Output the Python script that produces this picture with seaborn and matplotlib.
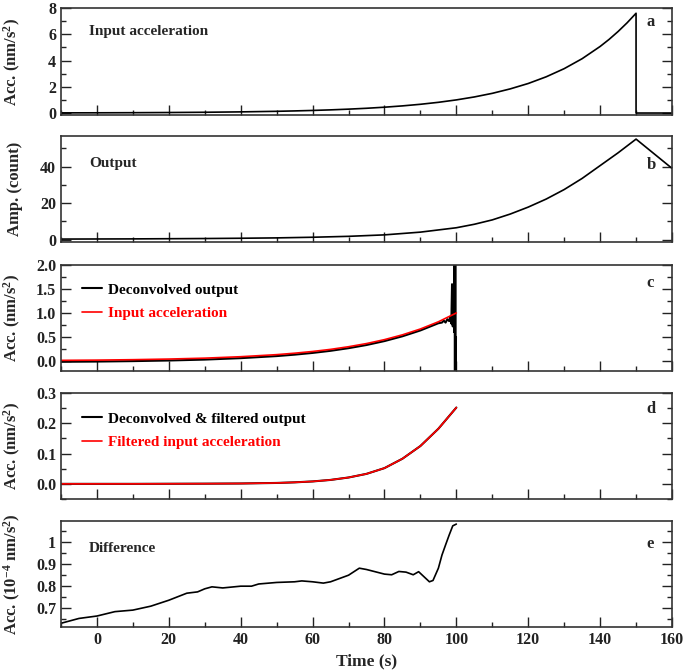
import numpy as np
import pandas as pd
import matplotlib
matplotlib.use("Agg")
import matplotlib.pyplot as plt
import seaborn as sns
from matplotlib.ticker import MultipleLocator, FuncFormatter

# ---------------- data ----------------
t_in = [-10, 0, 10, 20, 30, 40, 50, 55, 60, 65, 70, 75, 80, 85, 90, 95, 100,
        105, 110, 115, 120, 125, 130, 135, 140, 142.5, 145, 147.5, 150, 150, 160]
acc_in = [0.012, 0.017, 0.026, 0.039, 0.058, 0.088, 0.131, 0.161, 0.197, 0.241,
          0.296, 0.362, 0.444, 0.544, 0.666, 0.816, 1.0, 1.225, 1.50, 1.84, 2.25,
          2.76, 3.38, 4.14, 5.07, 5.61, 6.21, 6.87, 7.6, 0.0, 0.0]

t_out = [-10, 0, 10, 20, 30, 40, 50, 60, 70, 80, 90, 100, 105, 110, 115, 120,
         125, 130, 135, 140, 145, 150, 160]
amp_out = [0.3, 0.35, 0.4, 0.5, 0.6, 0.75, 0.95, 1.3, 1.8, 2.6, 4.1, 6.5, 8.4,
           10.8, 14.0, 17.8, 22.2, 27.4, 33.5, 40.5, 47.5, 55.0, 39.0]

t_c_in = [-10, 0, 10, 20, 30, 40, 50, 55, 60, 65, 70, 75, 80, 85, 90, 95, 100]
acc_c_in = [0.012, 0.017, 0.026, 0.039, 0.058, 0.088, 0.131, 0.161, 0.197, 0.241,
            0.296, 0.362, 0.444, 0.544, 0.666, 0.816, 1.0]

t_dec = [-10, 0, 10, 20, 30, 40, 50, 55, 60, 65, 70, 75, 80, 85, 90, 95, 96,
         96.5, 97, 97.5, 98, 98.3, 98.6, 98.8, 99.0, 99.2, 99.4, 99.5, 99.6,
         99.7, 99.8, 99.9]
acc_dec = [-0.018, -0.013, -0.004, 0.009, 0.028, 0.058, 0.101, 0.131, 0.167,
           0.211, 0.266, 0.332, 0.414, 0.514, 0.636, 0.786, 0.80, 0.84, 0.80,
           0.87, 0.83, 0.92, 0.78, 1.6, 0.72, 1.3, 0.6, 2.1, -0.25, 2.1, -0.25, 0.5]

t_d = [-10, 0, 10, 20, 30, 40, 50, 55, 60, 65, 70, 75, 80, 85, 90, 95, 100]
filt_dec = [0, 0, 0, 0.0003, 0.0006, 0.0012, 0.003, 0.005, 0.008, 0.013, 0.021,
            0.033, 0.052, 0.083, 0.125, 0.182, 0.252]
filt_in = [0, 0, 0, 0.0003, 0.0006, 0.0012, 0.003, 0.005, 0.008, 0.013, 0.021,
           0.033, 0.052, 0.083, 0.125, 0.182, 0.252]

t_e = [-10, -5, 0, 5, 10, 15, 20, 25, 28, 30, 32, 35, 40, 43, 45, 50, 55, 57,
       60, 63, 65, 70, 73, 75, 80, 82, 84, 86, 88, 89.5, 91, 92.5, 93.5, 95, 96,
       97, 98, 99, 100]
diff_e = [0.631, 0.653, 0.664, 0.684, 0.691, 0.709, 0.736, 0.768, 0.774, 0.788,
          0.797, 0.792, 0.800, 0.800, 0.810, 0.817, 0.820, 0.824, 0.820, 0.814,
          0.820, 0.850, 0.882, 0.876, 0.855, 0.852, 0.867, 0.864, 0.852, 0.866,
          0.843, 0.820, 0.826, 0.882, 0.942, 0.988, 1.033, 1.075, 1.083]

x_ticks = [0, 20, 40, 60, 80, 100, 120, 140, 160]

# ---------------- style ----------------
sns.set_style("ticks")
plt.rcParams["font.family"] = ["Liberation Serif", "DejaVu Serif"]
plt.rcParams["font.weight"] = "bold"
plt.rcParams["axes.labelweight"] = "bold"
plt.rcParams["mathtext.fontset"] = "custom"
plt.rcParams["mathtext.rm"] = "Liberation Serif:bold"
plt.rcParams["mathtext.bf"] = "Liberation Serif:bold"
plt.rcParams["mathtext.it"] = "Liberation Serif:bold"

fig = plt.figure(figsize=(6.85, 6.72), dpi=100)
H = 672.0
left, width = 61 / 685, 611 / 685
tops = [8, 136, 265, 393, 521]
bots = [115, 242, 371, 499, 627]
axes = [fig.add_axes([left, 1 - b / H, width, (b - t) / H]) for t, b in zip(tops, bots)]

def line(ax, x, y, color, lw=1.2, label=None):
    df = pd.DataFrame({"x": x, "y": y})
    sns.lineplot(data=df, x="x", y="y", ax=ax, color=color, lw=lw, sort=False,
                 estimator=None, label=label, legend=False)

line(axes[0], t_in, acc_in, "black")
line(axes[1], t_out, amp_out, "black")
line(axes[2], t_dec, acc_dec, "black", lw=1.5, label="Deconvolved output")
line(axes[2], t_c_in, acc_c_in, "red", lw=1.2, label="Input acceleration")
line(axes[3], t_d, filt_dec, "black", lw=1.5, label="Deconvolved & filtered output")
line(axes[3], t_d, filt_in, "red", lw=1.2, label="Filtered input acceleration")
line(axes[4], t_e, diff_e, "black")

ylims = [(-0.15, 8), (-1.3, 56.7), (-0.21, 2.0), (-0.05, 0.3), (0.614, 1.097)]
ymaj = [2, 20, 0.5, 0.1, 0.1]
ymin = [1, 10, 0.25, 0.05, 0.05]
ylabels = [r"Acc. (nm/s$^{2}$)", "Amp. (count)", r"Acc. (nm/s$^{2}$)",
           r"Acc. (nm/s$^{2}$)", r"Acc. (10$^{-4}$ nm/s$^{2}$)"]
fmts = ["%d", "%d", "%.1f", "%.1f", "%g"]
letters = ["a", "b", "c", "d", "e"]
letter_y = [0.87, 0.726, 0.83, 0.85, 0.78]

for i, ax in enumerate(axes):
    ax.set_xlim(-10, 160)
    ax.set_ylim(*ylims[i])
    ax.xaxis.set_major_locator(MultipleLocator(20))
    ax.xaxis.set_minor_locator(MultipleLocator(10))
    ax.yaxis.set_major_locator(MultipleLocator(ymaj[i]))
    ax.yaxis.set_minor_locator(MultipleLocator(ymin[i]))
    f = fmts[i]
    ax.yaxis.set_major_formatter(FuncFormatter(lambda v, p, f=f: (f % v) if abs(v) > 1e-9 or f != "%g" else "0"))
    ax.tick_params(which="both", direction="in", top=False, right=True,
                   width=1.0, colors="#222222", labelsize=11.5)
    ax.tick_params(which="major", length=7)
    ax.tick_params(which="minor", length=3.5)
    for s in ax.spines.values():
        s.set_linewidth(1.2)
        s.set_color("#333333")
        s.set_visible(True)
    ax.set_ylabel(ylabels[i], fontsize=12, fontweight="bold")
    ax.yaxis.set_label_coords(-0.062, 0.5)
    ax.text(0.958, letter_y[i], letters[i], transform=ax.transAxes,
            fontsize=12, fontweight="bold", va="center", ha="left")
    if i < 4:
        ax.set_xlabel("")
        ax.tick_params(axis="x", labelbottom=False)
    else:
        ax.set_xticks(x_ticks)
        ax.set_xlabel("Time (s)", fontsize=12.5, fontweight="bold")

axes[0].text(0.046, 0.785, "Input acceleration", transform=axes[0].transAxes,
             fontsize=11, fontweight="bold", va="center")
axes[1].text(0.046, 0.736, "Output", transform=axes[1].transAxes,
             fontsize=11, fontweight="bold", va="center")
axes[4].text(0.046, 0.736, "Difference", transform=axes[4].transAxes,
             fontsize=11, fontweight="bold", va="center")

for ax, anchor in [(axes[2], (0.035, 0.83)), (axes[3], (0.035, 0.82))]:
    h, l = ax.get_legend_handles_labels()
    leg = ax.legend(h, l, loc="upper left", bbox_to_anchor=anchor, frameon=False,
                    handlelength=1.3, handletextpad=0.35, labelspacing=0.65,
                    borderpad=0, borderaxespad=0,
                    prop={"family": "Liberation Serif", "weight": "bold", "size": 11},
                    labelcolor="linecolor")

fig.savefig("out.png", dpi=100)
